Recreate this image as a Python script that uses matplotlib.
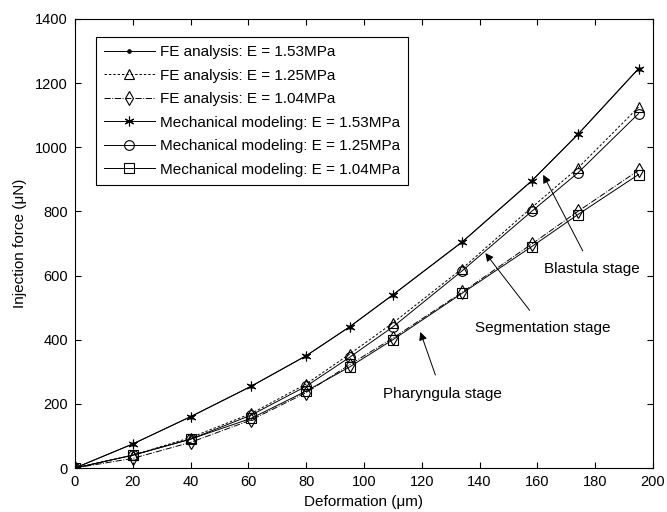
import matplotlib
matplotlib.use('Agg')
import matplotlib.pyplot as plt

plt.rcParams['font.family'] = ['Liberation Sans', 'DejaVu Sans']
plt.rcParams['font.size'] = 11

deformation = [0, 20, 40, 61, 80, 95, 110, 134, 158, 174, 195]

fe_153 = [0, 75, 160, 255, 350, 440, 540, 705, 895, 1040, 1245]
fe_125 = [0, 40, 95, 170, 262, 355, 452, 622, 812, 935, 1125]
fe_104 = [0, 30, 80, 150, 235, 322, 405, 548, 698, 800, 928]
mech_153 = [0, 75, 160, 255, 350, 440, 540, 705, 895, 1040, 1245]
mech_125 = [0, 40, 90, 165, 255, 345, 440, 615, 800, 920, 1105]
mech_104 = [0, 40, 90, 155, 240, 315, 400, 545, 690, 790, 915]

labels = ['FE analysis: E = 1.53MPa', 'FE analysis: E = 1.25MPa',
          'FE analysis: E = 1.04MPa', 'Mechanical modeling: E = 1.53MPa',
          'Mechanical modeling: E = 1.25MPa', 'Mechanical modeling: E = 1.04MPa']

# (text, arrow head, text position)
stages = [('Blastula stage', (162, 914), (179, 620)),
          ('Segmentation stage', (142, 670), (162, 437)),
          ('Pharyngula stage', (119.5, 424), (127, 231))]

fig = plt.figure(figsize=(6.67, 5.12), dpi=100)
ax = fig.add_axes([0.1124, 0.0859, 0.979 - 0.1124, 0.963 - 0.0859])

asterisk = (6, 2, 0)
styles = [
    dict(linestyle='-', marker='.', markersize=5),
    dict(linestyle=(0, (2.5, 2)), marker='^', markersize=7, markerfacecolor='none'),
    dict(linestyle='-.', marker='d', markersize=7, markerfacecolor='none'),
    dict(linestyle='-', marker=asterisk, markersize=7),
    dict(linestyle='-', marker='o', markersize=7, markerfacecolor='none'),
    dict(linestyle='-', marker='s', markersize=7, markerfacecolor='none'),
]
series = [fe_153, fe_125, fe_104, mech_153, mech_125, mech_104]
for vals, st, lab in zip(series, styles, labels):
    ax.plot(deformation, vals, color='k', linewidth=0.7, markeredgewidth=0.8,
            label=lab, **st)

for text, head, pos in stages:
    ax.annotate(text, xy=head, xytext=pos, ha='center', va='center',
                arrowprops=dict(arrowstyle='-|>', color='k', lw=0.7,
                                shrinkA=7, shrinkB=0, mutation_scale=12))

ax.set_xlim(0, 200)
ax.set_ylim(0, 1400)
ax.set_xticks(range(0, 201, 20))
ax.set_yticks(range(0, 1401, 200))
ax.tick_params(direction='in', top=True, right=True, length=4, pad=5,
               labelsize=10.5)
ax.set_xlabel('Deformation (\u03bcm)', labelpad=4)
ax.set_ylabel('Injection force (\u03bcN)', labelpad=6)

leg = ax.legend(loc='upper left', bbox_to_anchor=(0.036, 0.96), fancybox=False,
                edgecolor='k', framealpha=1, handlelength=3.3, handletextpad=0.35,
                borderpad=0.55, labelspacing=0.62, borderaxespad=0)
leg.get_frame().set_linewidth(0.8)

fig.savefig('out.png', dpi=100)
